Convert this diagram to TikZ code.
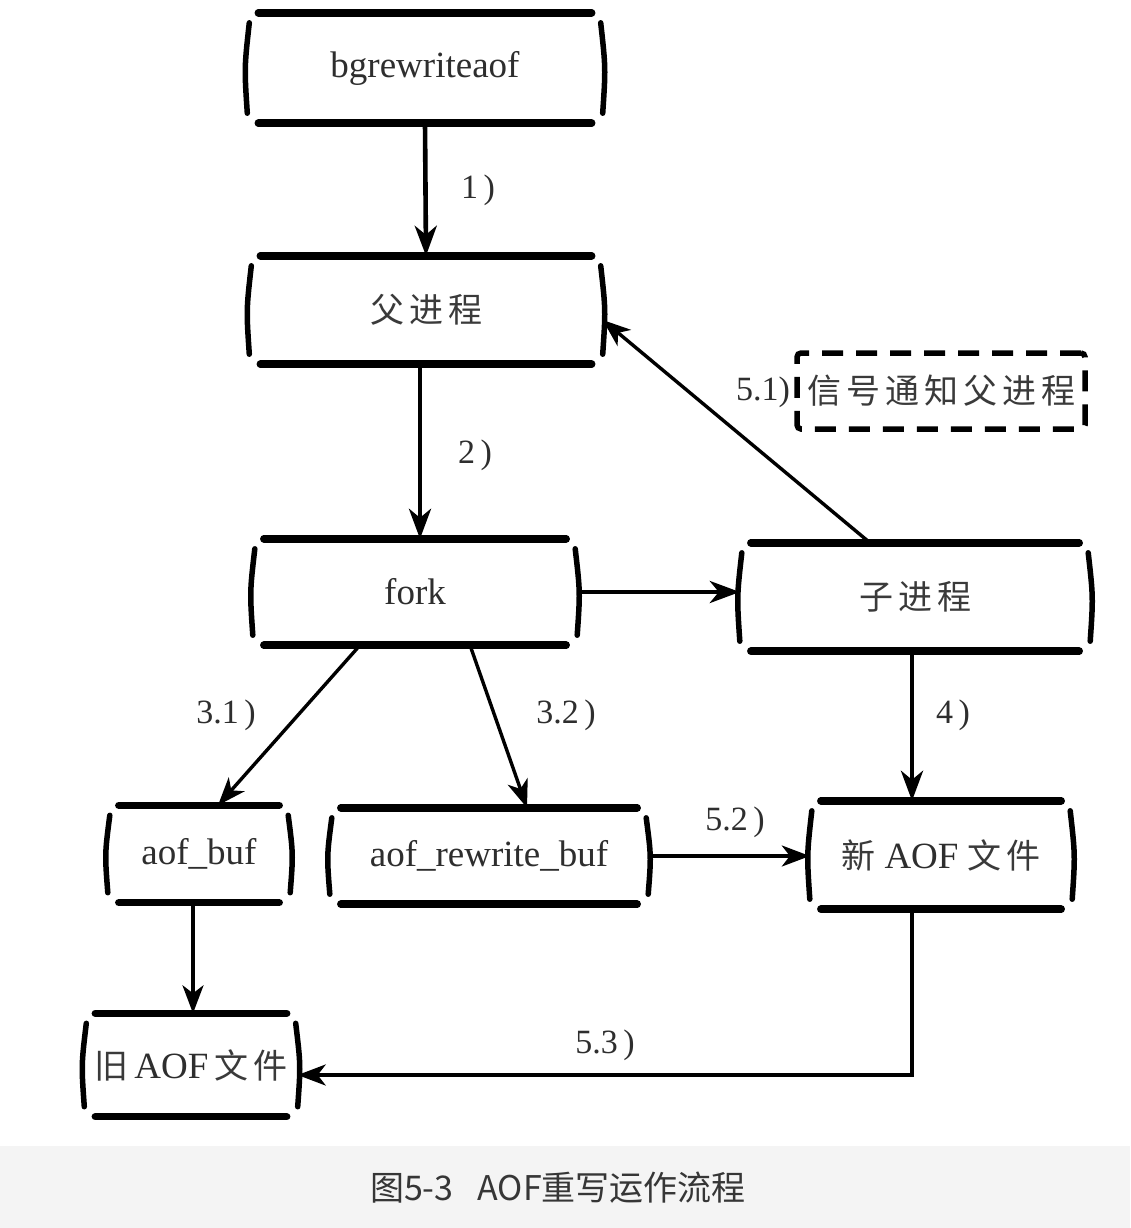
\documentclass[tikz,border=0pt]{standalone}
\usepackage{fontspec}
\setmainfont{Liberation Serif}
\newfontfamily\cjk{Noto Sans CJK SC}
\usetikzlibrary{arrows.meta,calc}
\definecolor{txt}{HTML}{2E2E2E}
\definecolor{zhtxt}{HTML}{3A3A3A}
\definecolor{band}{HTML}{F4F4F4}
\definecolor{captxt}{HTML}{363636}
\newcommand{\gp}{\hspace{5pt}}
\newcommand{\zh}[1]{{\cjk\color{zhtxt}\fontsize{34}{40}\selectfont #1}}
\begin{document}
\begin{tikzpicture}[x=1pt,y=-1pt,
  box/.style n args={2}{rectangle, minimum width=#1, minimum height=#2, inner sep=0pt,
    text=txt, font=\fontsize{37}{44}\selectfont},
  hline/.style={line width=7.5pt, line cap=round},
  sline/.style={line width=5.5pt, line cap=round},
  arr/.style={line width=4.6pt, -{Stealth[length=30pt,width=22pt,inset=9pt]}},
  thin/.style={line width=3.4pt, -{Stealth[length=28pt,width=21pt,inset=8pt]}},
  lbl/.style={text=txt, font=\fontsize{34}{40}\selectfont, inner sep=0pt},
  sigbox/.style={draw, dashed, dash pattern=on 21pt off 13pt, line width=5.5pt,
    rounded corners=4pt, minimum width=288pt, minimum height=76pt, inner sep=0pt, text=txt}
]
\useasboundingbox (0,0) rectangle (1130,1228);
\fill[white] (0,0) rectangle (1130,1146);
\fill[band] (0,1146) rectangle (1130,1228);

% nodes
\node[box={355}{110}] (bg) at (425,68) {bgrewriteaof};
\node[box={353}{108}] (parent) at (426,310) {\zh{父\gp 进\gp 程}};
\node[box={324}{106}] (fork) at (415,592) {fork};
\node[box={350}{108}] (child) at (915,597) {\zh{子\gp 进\gp 程}};
\node[box={182}{97}] (abuf) at (199,854) {aof\_buf};
\node[box={318}{96}] (rbuf) at (489,856) {aof\_rewrite\_buf};
\node[box={262}{108}] (newf) at (941,855) {\zh{新}\hspace{9pt}AOF\hspace{9pt}\zh{文\gp 件}};
\node[box={213}{103}] (oldf) at (191,1065) {\zh{旧}\hspace{6pt}AOF\hspace{6pt}\zh{文\gp 件}};
\node[sigbox] (sig) at (941,391) {\zh{信\gp 号\gp 通\gp 知\gp 父\gp 进\gp 程}};

% sketchy borders
\foreach \n in {bg,parent,fork,child,abuf,rbuf,newf,oldf} {
  \draw[hline] ([xshift=11pt]\n.north west) -- ([xshift=-11pt]\n.north east);
  \draw[hline] ([xshift=11pt]\n.south west) -- ([xshift=-11pt]\n.south east);
  \draw[sline] ([xshift=2pt,yshift=-10pt]\n.north west) .. controls ([xshift=-3pt]\n.west) .. ([yshift=10pt]\n.south west);
  \draw[sline] ([xshift=-2pt,yshift=-10pt]\n.north east) .. controls ([xshift=3pt]\n.east) .. ([yshift=10pt]\n.south east);
}

% connectors
\draw[arr] (bg.south) -- (parent.north);
\draw[arr] ([xshift=-6pt]parent.south) -- ([xshift=5pt]fork.north);
\draw[arr] (fork.east) -- (fork.east -| child.west);
\draw[thin] ([xshift=-45pt]child.north) -- ([yshift=-10pt]parent.east);
\draw[thin] ([xshift=-55pt]fork.south) -- ([xshift=19pt]abuf.north);
\draw[thin] ([xshift=55pt]fork.south) -- ([xshift=38pt]rbuf.north);
\draw[arr] ([xshift=-3pt]child.south) -- ([xshift=-3pt]child.south |- newf.north);
\draw[thin] (rbuf.east) -- (rbuf.east -| newf.west);
\draw[thin] ([xshift=-6pt]abuf.south) -- ([xshift=-6pt]abuf.south |- oldf.north);
\draw[thin] ([xshift=-29pt]newf.south) |- ([yshift=-10pt]oldf.east);

% labels
\node[lbl] (l1) at (478,190) {1\,)};
\node[lbl] (l2) at (475,455) {2\,)};
\node[lbl] (l51) at (763,392) {5.1)};
\node[lbl] (l31) at (226,715) {3.1\,)};
\node[lbl] (l32) at (566,715) {3.2\,)};
\node[lbl] (l4) at (953,715) {4\,)};
\node[lbl] (l52) at (735,822) {5.2\,)};
\node[lbl] (l53) at (605,1045) {5.3\,)};

% caption
\node[text=captxt, font=\cjk\fontsize{34}{40}\selectfont, inner sep=0pt] (cap) at (558,1188) {图5-3\hspace{24pt}AOF重写运作流程};
\end{tikzpicture}
\end{document}
